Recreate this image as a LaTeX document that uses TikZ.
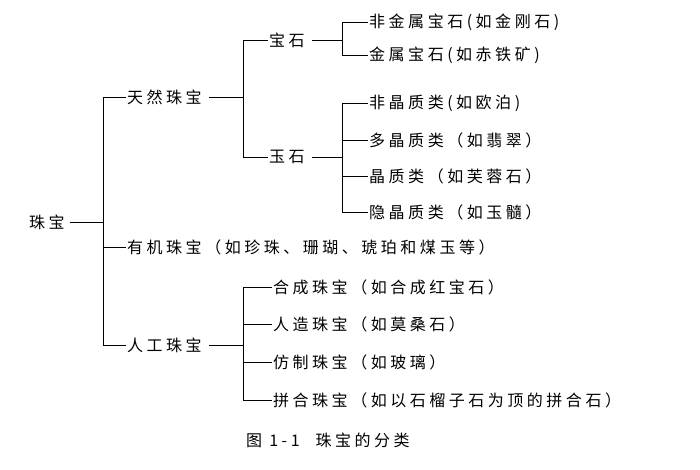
\documentclass[tikz,border=0pt]{standalone}
\usepackage{fontspec}
\newfontfamily\cjk[LetterSpace=22]{Noto Sans CJK SC}
\begin{document}
\begin{tikzpicture}[x=1pt,y=-1pt,
  lbl/.style={anchor=west,inner sep=1pt,font=\cjk\fontsize{16}{18}\selectfont},
  ln/.style={line width=0.9pt}]
\useasboundingbox (0,0) rectangle (700,470);
\node[lbl] (root) at (28,222) {珠宝};
\node[lbl] (tr) at (126,97) {天然珠宝};
\node[lbl] (yj) at (126,247) {有机珠宝（如珍珠、珊瑚、琥珀和煤玉等）};
\node[lbl] (rg) at (126,345) {人工珠宝};
\node[lbl] (bs) at (268,40) {宝石};
\node[lbl] (ys) at (268,157) {玉石};
\node[lbl] (b1) at (368,22) {非金属宝石(如金刚石)};
\node[lbl] (b2) at (368,55) {金属宝石(如赤铁矿)};
\node[lbl] (y1) at (368,103) {非晶质类(如欧泊)};
\node[lbl] (y2) at (368,140) {多晶质类（如翡翠）};
\node[lbl] (y3) at (368,176) {晶质类（如芙蓉石）};
\node[lbl] (y4) at (368,212) {隐晶质类（如玉髓）};
\node[lbl] (r1) at (272,287) {合成珠宝（如合成红宝石）};
\node[lbl] (r2) at (272,324) {人造珠宝（如莫桑石）};
\node[lbl] (r3) at (272,362) {仿制珠宝（如玻璃）};
\node[lbl] (r4) at (272,400) {拼合珠宝（如以石榴子石为顶的拼合石）};
\node[lbl] (cap) at (245,440) {图 1-1\quad 珠宝的分类};
% level 1
\coordinate (v1) at (103,222);
\draw[ln] ([xshift=4pt]root.east) -- (v1);
\draw[ln] (103,97) -- (103,345);
\foreach \n in {tr,yj,rg} \draw[ln] (103,0 |- \n.west) -- (\n.west);
% natural
\draw[ln] ([xshift=6pt]tr.east) -- (243,0 |- tr.east);
\draw[ln] (243,40) -- (243,157);
\foreach \n in {bs,ys} \draw[ln] (243,0 |- \n.west) -- (\n.west);
% gem
\draw[ln] ([xshift=6pt]bs.east) -- (342,0 |- bs.east);
\draw[ln] (342,22) -- (342,55);
\foreach \n in {b1,b2} \draw[ln] (342,0 |- \n.west) -- (\n.west);
% jade
\draw[ln] ([xshift=6pt]ys.east) -- (342,0 |- ys.east);
\draw[ln] (342,103) -- (342,212);
\foreach \n in {y1,y2,y3,y4} \draw[ln] (342,0 |- \n.west) -- (\n.west);
% artificial
\draw[ln] ([xshift=6pt]rg.east) -- (243,0 |- rg.east);
\draw[ln] (243,287) -- (243,400);
\foreach \n in {r1,r2,r3,r4} \draw[ln] (243,0 |- \n.west) -- (\n.west);
\end{tikzpicture}
\end{document}
